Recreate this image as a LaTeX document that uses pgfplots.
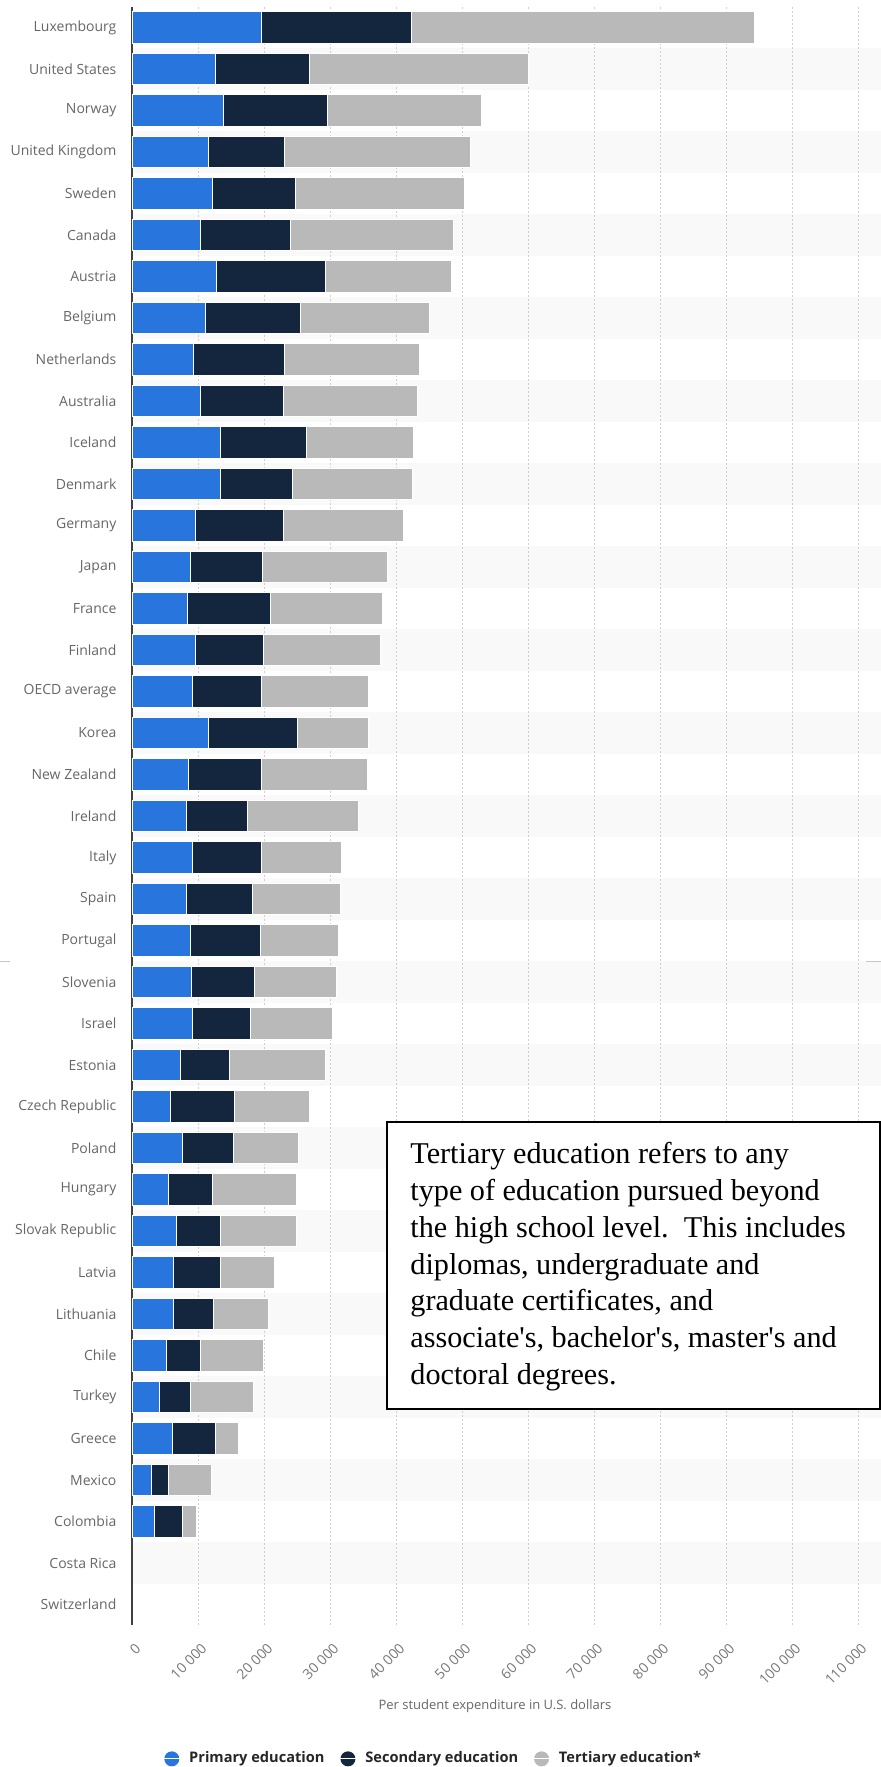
\documentclass[border=0pt]{standalone}
\usepackage{fontspec}
\setmainfont{Open Sans}
\newfontfamily\serifnote{Liberation Serif}
\usepackage{pgfplots}
\usepackage{pgfplotstable}
\pgfplotsset{compat=1.18}
\definecolor{prim}{HTML}{2876DD}
\definecolor{sec}{HTML}{13263E}
\definecolor{tert}{HTML}{B9B9B9}
\definecolor{lab}{HTML}{666666}
\definecolor{ticklab}{HTML}{777777}
\definecolor{stripe}{HTML}{F9F9F9}
\definecolor{gridc}{HTML}{CFCFCF}

% idx = row (0 = Luxembourg), p = primary, s = secondary, t = tertiary (US dollars)
\pgfplotstableread{
idx p s t
0 19640 22630 52090
1 12640 14170 33220
2 13920 15630 23400
3 11610 11450 28180
4 12210 12560 25530
5 10330 13670 24760
6 12720 16570 19130
7 11100 14430 19470
8 9310 13750 20410
9 10330 12560 20320
10 13410 13060 16230
11 13410 10930 18100
12 9560 13330 18270
13 8800 10930 18960
14 8370 12630 16920
15 9560 10420 17680
16 9140 10500 16140
17 11600 13500 10700
18 8500 11100 16000
19 8200 9300 16800
20 9200 10400 12200
21 8200 10100 13300
22 8800 10700 11700
23 9000 9500 12500
24 9100 8900 12400
25 7400 7400 14500
26 5850 9650 11400
27 7700 7600 9900
28 5450 6800 12710
29 6800 6600 11560
30 6250 7150 8200
31 6250 6050 8300
32 5200 5200 9500
33 4100 4700 9600
34 6100 6600 3400
35 2900 2600 6600
36 3400 4200 2200
}\data

\begin{document}
\begin{tikzpicture}
\useasboundingbox (0pt,0pt) rectangle (440.5pt,883.5pt);
% alternating row stripes (background)
\foreach \i in {1,3,...,37}{
  \fill[stripe] (66pt,{880.1pt-\i*20.75pt}) rectangle (440.5pt,{880.1pt-(\i+1)*20.75pt});
}
\begin{axis}[
  at={(66pt,70.85pt)}, anchor=south west,
  width=363pt, height=809.25pt, scale only axis,
  xbar stacked,
  bar width=0.757,
  xmin=0, xmax=110000,
  ymin=-0.5, ymax=38.5,
  y dir=reverse,
  enlargelimits=false,
  clip=false,
  axis line style={draw=none},
  major tick length=0pt,
  xtick={0,10000,...,110000},
  xticklabels={0,10 000,20 000,30 000,40 000,50 000,60 000,70 000,80 000,90 000,100 000,110 000},
  scaled x ticks=false,
  xticklabel style={xshift=1.2pt, yshift=-8.2pt, rotate=45, anchor=north east, inner sep=0pt,
    font=\fontsize{7}{8.5}\selectfont, text=ticklab},
  ytick={0,...,38},
  yticklabels={Luxembourg,United States,Norway,United Kingdom,Sweden,Canada,Austria,Belgium,Netherlands,Australia,Iceland,Denmark,Germany,Japan,France,Finland,OECD average,Korea,New Zealand,Ireland,Italy,Spain,Portugal,Slovenia,Israel,Estonia,Czech Republic,Poland,Hungary,Slovak Republic,Latvia,Lithuania,Chile,Turkey,Greece,Mexico,Colombia,Costa Rica,Switzerland},
  yticklabel style={anchor=east, inner sep=0pt, xshift=-7.6pt,
    font=\fontsize{7}{8.5}\selectfont, text=lab},
  xmajorgrids,
  major grid style={gridc, dash pattern=on 1pt off 1pt, line width=0.45pt},
  xlabel={Per student expenditure in U.S. dollars},
  xlabel style={at={(rel axis cs:0.5,-0.0502)}, anchor=center,
    font=\fontsize{6.5}{8}\selectfont, text=lab},
  legend columns=3,
  legend style={draw=none, fill=none, at={(0.0434,-0.0825)}, anchor=west,
    inner sep=0pt, font=\bfseries\fontsize{7.3}{9}\selectfont, text=black!85,
    /tikz/every even column/.append style={column sep=7.75pt},
    nodes={inner sep=0pt}},
  legend image code/.code={\fill[#1, draw=none] (3.75pt,0pt) circle (3.75pt); \path (0pt,0pt) -- (12.25pt,0pt);},
]
\addplot[fill=prim, draw=white, line width=0.4pt] table[x=p, y=idx] {\data};
\addlegendentry{Primary education}
\addplot[fill=sec, draw=white, line width=0.4pt] table[x=s, y=idx] {\data};
\addlegendentry{Secondary education}
\addplot[fill=tert, draw=white, line width=0.4pt] table[x=t, y=idx] {\data};
\addlegendentry{Tertiary education*}
\draw[black!75, line width=0.6pt] (rel axis cs:0,0) -- (rel axis cs:0,1);
\end{axis}
% seam marks of the original screenshot
\draw[gray!45, line width=0.5pt] (0pt,402.5pt) -- (5pt,402.5pt);
\draw[gray!45, line width=0.5pt] (433pt,402.5pt) -- (440.5pt,402.5pt);
% note box
\filldraw[fill=white, draw=black, line width=1pt] (193.4pt,179pt) rectangle (439.8pt,322.6pt);
\node[anchor=base west, inner sep=0pt, font=\serifnote\fontsize{15.1}{18.35}\selectfont] at (205pt,301.5pt)
  {\renewcommand\arraystretch{1}\begin{tabular}[t]{@{}l@{}}Tertiary education refers to any\\type of education pursued beyond\\the high school level.\ \ This includes\\diplomas, undergraduate and\\graduate certificates, and\\associate's, bachelor's, master's and\\doctoral degrees.\end{tabular}};
\end{tikzpicture}
\end{document}
